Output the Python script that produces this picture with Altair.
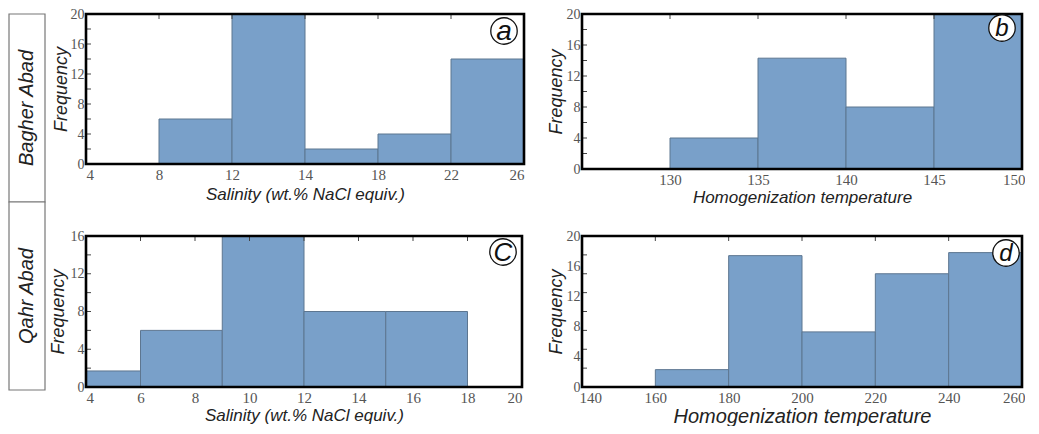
import altair as alt
import pandas as pd

# ---------------- data ----------------
sites = ["Bagher Abad", "Qahr Abad"]

# (a) Bagher Abad salinity: bin edges shown at equal spacing
a_edges = ["4", "8", "12", "14", "18", "22", "26"]
a_bin_start = [1, 2, 3, 4, 5]          # index of left edge of each bar
a_counts = [6, 20, 2, 4, 14]

# (b) Bagher Abad homogenization temperature
b_lo = [130, 135, 140, 145]
b_hi = [135, 140, 145, 150]
b_counts = [4, 14.3, 8, 20]

# (c) Qahr Abad salinity
c_lo = [4, 6, 9, 12, 15]
c_hi = [6, 9, 12, 15, 18]
c_counts = [1.7, 6, 16, 8, 8]

# (d) Qahr Abad homogenization temperature
d_lo = [160, 180, 200, 220, 240]
d_hi = [180, 200, 220, 240, 260]
d_counts = [2.3, 17.4, 7.3, 15, 17.8]

# tick positions
a_xticks = [0, 1, 2, 3, 4, 5, 6]
a_yticks = [0, 4, 8, 12, 16, 20]
a_minor = [2, 4, 6, 8, 10, 12, 14, 16, 18]
b_xticks = [130, 135, 140, 145, 150]
b_minor = [2, 4, 6, 8, 10, 12, 14, 16, 18]
c_xticks = [4, 6, 8, 10, 12, 14, 16, 18, 20]
c_yticks = [0, 4, 8, 12, 16]
c_minor = [2, 4, 6, 8, 10, 12, 14]
d_xticks = [140, 160, 180, 200, 220, 240, 260]
d_minor = [2.5, 5, 7.5, 10, 12.5, 15, 17.5]

BAR_FILL = "#79a0c9"
BAR_STROKE = "#5d7690"
LABEL_COLOR = "#555555"
SERIF = "Liberation Serif"
SANS = "Liberation Sans"


def panel(lo, hi, counts, xdom, xvals, ydom, yvals, minor, top_ticks,
          xtitle, letter, w, h, circ_dx, circ_dy, letter_size,
          xlabel_expr=None, xtitle_size=17, ytitle_pad=4, xtitle_pad=4,
          flush=False):
    bars = pd.DataFrame({"lo": lo, "hi": hi, "count": counts})
    xaxis_kw = dict(values=xvals, tickCount=len(xvals), ticks=False,
                    domain=False, grid=False, labelFont=SERIF,
                    labelFontSize=15, labelColor=LABEL_COLOR, labelPadding=3,
                    labelOverlap=False, title=xtitle, titleFont=SANS,
                    titleFontStyle="italic", titleFontWeight="normal",
                    titleFontSize=xtitle_size, titleColor="#222222",
                    titlePadding=xtitle_pad)
    if xlabel_expr is not None:
        xaxis_kw["labelExpr"] = xlabel_expr
    if flush:
        xaxis_kw["labelFlush"] = True
        xaxis_kw["labelFlushOffset"] = 3
    yaxis = alt.Axis(values=yvals, tickCount=len(yvals), ticks=False,
                     domain=False, grid=False, labelFont=SERIF,
                     labelFontSize=14, labelColor=LABEL_COLOR, labelPadding=2,
                     labelOverlap=False, minExtent=16, maxExtent=16,
                     title="Frequency", titleFont=SANS,
                     titleFontStyle="italic", titleFontWeight="normal",
                     titleFontSize=18, titleColor="#222222",
                     titlePadding=ytitle_pad)
    xs = alt.Scale(domain=xdom, nice=False, zero=False)
    ys = alt.Scale(domain=ydom, nice=False, zero=True)

    bar_layer = alt.Chart(bars).mark_rect(
        fill=BAR_FILL, stroke=BAR_STROKE, strokeWidth=1
    ).encode(
        x=alt.X("lo:Q", scale=xs, axis=alt.Axis(**xaxis_kw)),
        x2="hi:Q",
        y=alt.Y("count:Q", scale=ys, axis=yaxis),
        y2=alt.datum(0),
    )
    left_ticks = alt.Chart(pd.DataFrame({"count": minor})).mark_rule(
        color="#444444", strokeWidth=1
    ).encode(y="count:Q", x=alt.value(0), x2=alt.value(5))
    top_tick_layer = alt.Chart(pd.DataFrame({"lo": top_ticks})).mark_rule(
        color="#444444", strokeWidth=1
    ).encode(x="lo:Q", y=alt.value(0), y2=alt.value(5))
    frame_df = pd.DataFrame({"lo": [xdom[0]], "hi": [xdom[1]],
                             "count": [ydom[1]], "base": [ydom[0]]})
    frame = alt.Chart(frame_df).mark_rect(
        fill="transparent", stroke="#000000", strokeWidth=2.6
    ).encode(x="lo:Q", x2="hi:Q", y="count:Q", y2="base:Q")
    lab = pd.DataFrame({"letter": [letter]})
    circ = alt.Chart(lab).mark_point(
        shape="circle", filled=True, fill="white", stroke="#111111",
        strokeWidth=1.3, size=700, opacity=1
    ).encode(x=alt.value(w - circ_dx), y=alt.value(circ_dy))
    txt = alt.Chart(lab).mark_text(
        font=SANS, fontStyle="italic", fontSize=letter_size, color="#111111",
        align="center", baseline="middle", dy=1
    ).encode(x=alt.value(w - circ_dx), y=alt.value(circ_dy), text="letter:N")
    return alt.layer(bar_layer, left_ticks, top_tick_layer, frame, circ,
                     txt).properties(width=w, height=h)


# build the a-panel label expression from the edge list
a_expr = "[" + ",".join("'" + e + "'" for e in a_edges) + "][datum.value]"

pa = panel([s for s in a_bin_start], [s + 1 for s in a_bin_start], a_counts,
           [0, 6], a_xticks, [0, 20], a_yticks, a_minor, [1, 2, 3, 4, 5],
           "Salinity (wt.% NaCl equiv.)", "a", 438, 150, 20, 17, 28,
           xlabel_expr=a_expr, ytitle_pad=0, xtitle_pad=4)
pb = panel(b_lo, b_hi, b_counts, [125, 150], b_xticks, [0, 20], a_yticks,
           b_minor, [130, 135, 140, 145], "Homogenization temperature", "b",
           440, 155, 20, 14, 24, ytitle_pad=1, xtitle_pad=2, flush=True)
pc = panel(c_lo, c_hi, c_counts, [4, 20], c_xticks, [0, 16], c_yticks,
           c_minor, [6, 8, 10, 12, 14, 16, 18], "Salinity (wt.% NaCl equiv.)",
           "C", 436, 151, 19, 16, 26, ytitle_pad=3, xtitle_pad=2)
pd_ = panel(d_lo, d_hi, d_counts, [140, 260], d_xticks, [0, 20], a_yticks,
            d_minor, [160, 180, 200, 220, 240], "Homogenization temperature",
            "d", 440, 151, 16, 17, 24, xtitle_size=20, ytitle_pad=1,
            xtitle_pad=1, flush=True)

# row label column
rows = pd.DataFrame({"site": sites, "y0": [1, 0], "y1": [2, 1],
                     "ym": [1.5, 0.5]})
ys_lab = alt.Scale(domain=[0, 2], nice=False, zero=False)
xs_lab = alt.Scale(domain=[0, 1], nice=False, zero=False)
boxes = alt.Chart(rows).mark_rect(
    fill="white", stroke="#777777", strokeWidth=1.2
).encode(
    x=alt.datum(0, scale=xs_lab, axis=None), x2=alt.datum(1),
    y=alt.Y("y0:Q", scale=ys_lab, axis=None), y2="y1:Q",
)
names = alt.Chart(rows).mark_text(
    font=SANS, fontStyle="italic", fontSize=20, color="#222222", angle=270,
    align="center", baseline="middle"
).encode(
    x=alt.datum(0.5, scale=xs_lab, axis=None),
    y=alt.Y("ym:Q", scale=ys_lab, axis=None), text="site:N",
)
# blank spacer so the label column has the same top overhang as the panels
spacer = alt.Chart(pd.DataFrame({"t": [" "]})).mark_text(
    fontSize=7, baseline="bottom", align="center"
).encode(x=alt.datum(0.5, scale=xs_lab, axis=None),
         y=alt.datum(2, scale=ys_lab, axis=None), text="t:N")
label_col = alt.layer(boxes, names, spacer).properties(width=36, height=376)

col1 = alt.vconcat(pa, pc, spacing=27)
col2 = alt.vconcat(pb, pd_, spacing=24)
inner = alt.hconcat(col1, col2, spacing=21)

chart = alt.hconcat(label_col, inner, spacing=3).properties(
    padding={"left": 0, "top": -1, "right": 0, "bottom": 0},
    background="white",
).configure_view(
    strokeWidth=0
)

chart.save("out.html", embed_options={"renderer": "svg", "actions": False})
